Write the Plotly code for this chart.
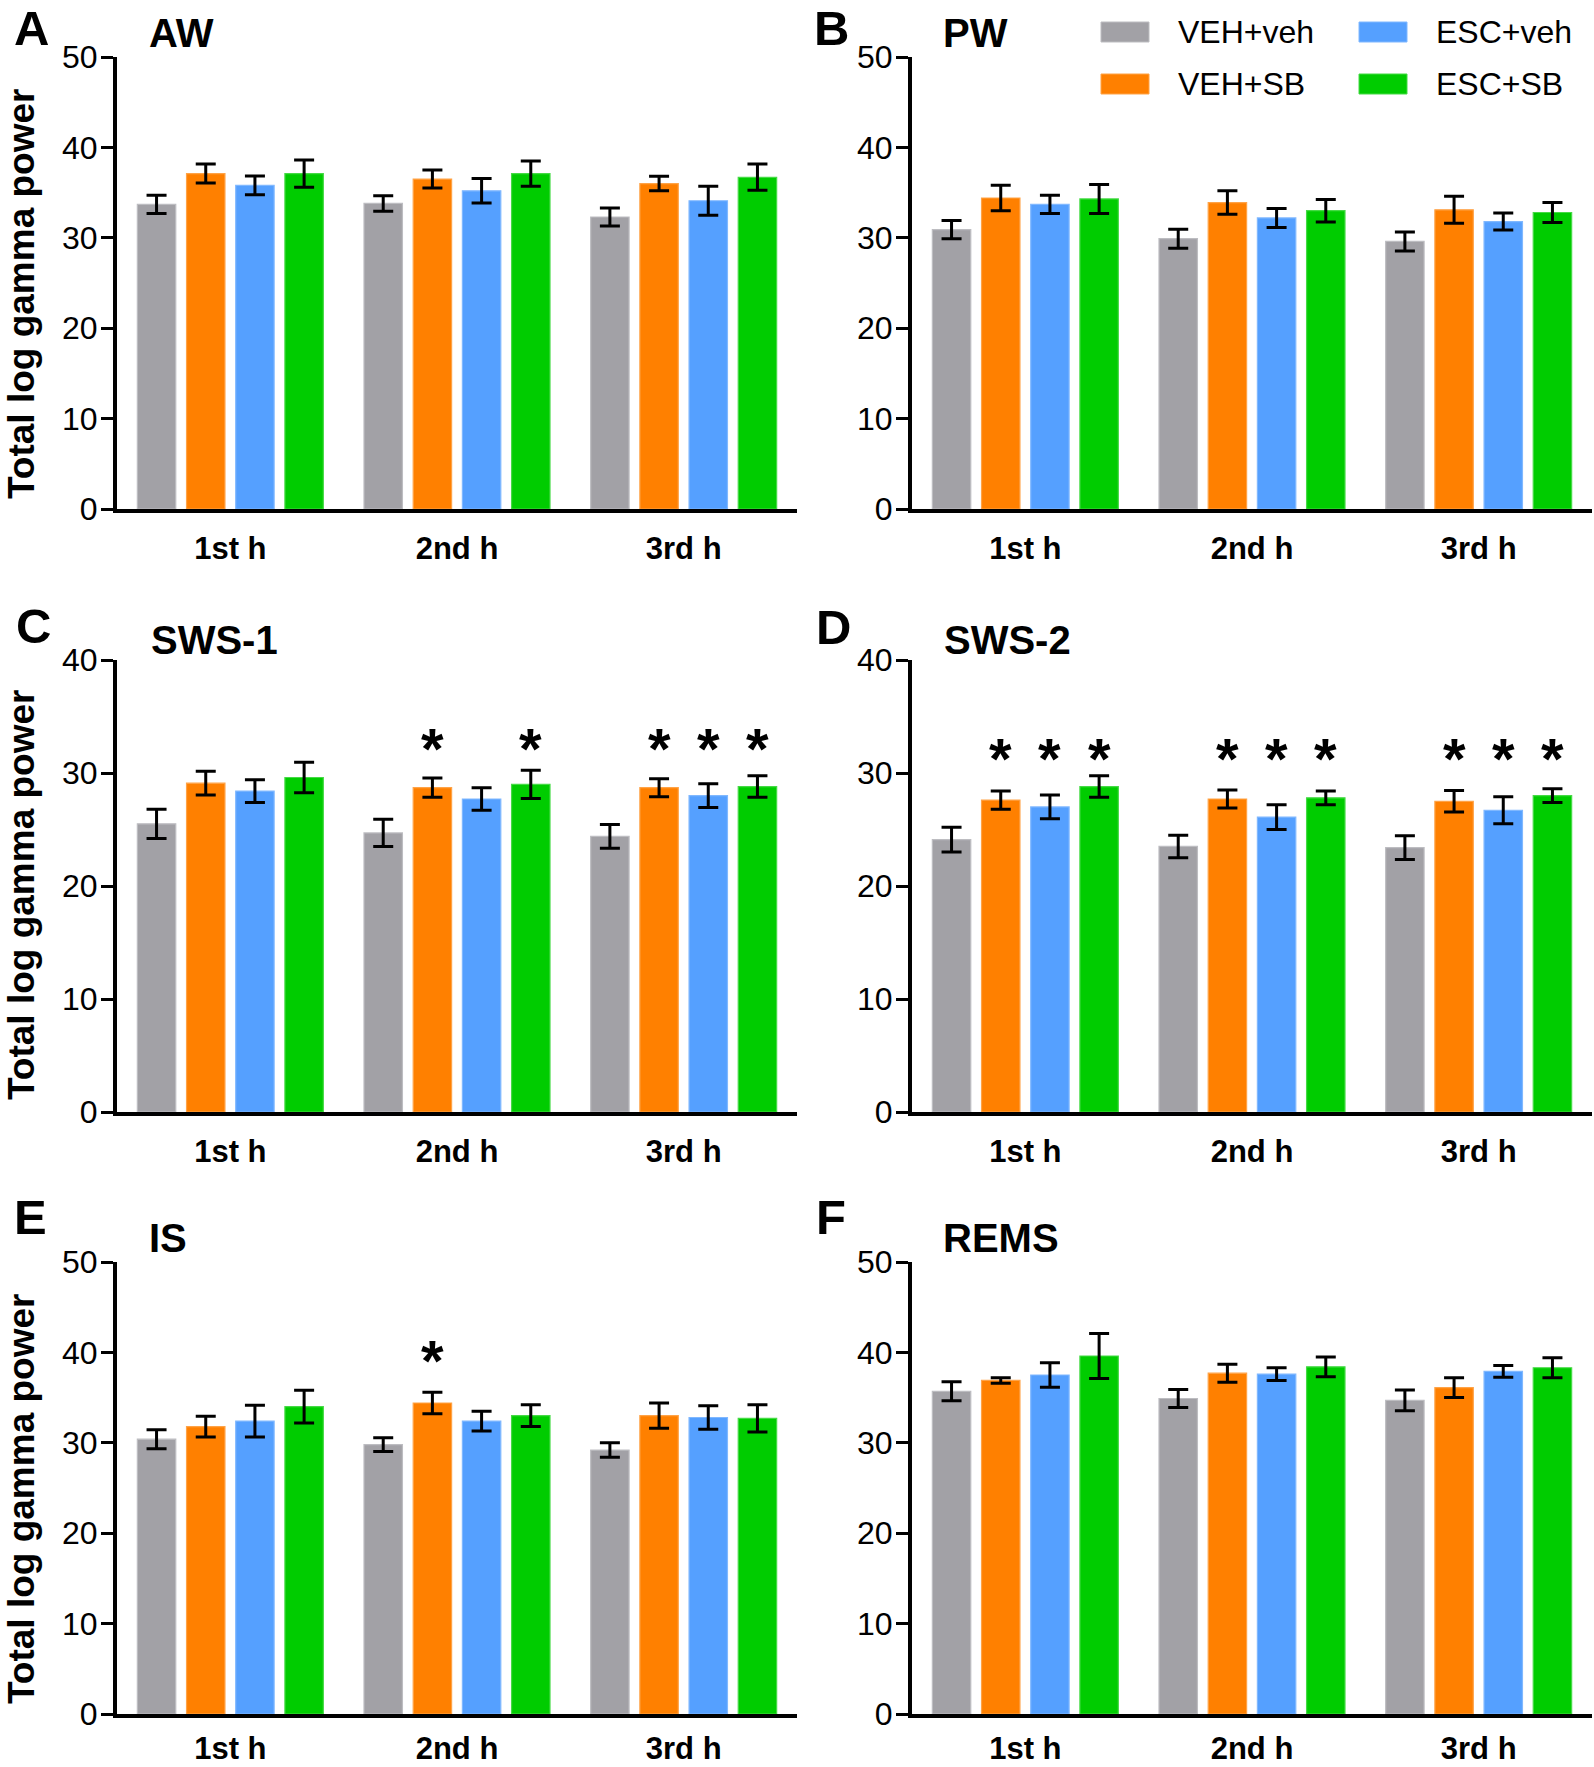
import plotly.graph_objects as go

W, H = 1594, 1767
FONT = "Liberation Sans"

HOURS = ["1st h", "2nd h", "3rd h"]
SERIES = ["VEH+veh", "VEH+SB", "ESC+veh", "ESC+SB"]
COLORS = ["#A2A1A6", "#FF8000", "#55A0FF", "#00CC00"]
EDGES = ["#BDBDC1", "#FFA347", "#80B8FF", "#45DA45"]

PANELS = ["AW", "PW", "SWS-1", "SWS-2", "IS", "REMS"]
LETTERS = ["A", "B", "C", "D", "E", "F"]
YMAX = [50, 50, 40, 40, 50, 50]

# rows = series (VEH+veh, VEH+SB, ESC+veh, ESC+SB); columns = 1st, 2nd, 3rd h
AW_MEAN = [[33.7, 33.8, 32.3], [37.1, 36.5, 36.0], [35.8, 35.2, 34.1], [37.1, 37.1, 36.7]]
AW_SEM = [[1.0, 0.85, 1.0], [1.05, 1.0, 0.8], [1.05, 1.35, 1.6], [1.5, 1.4, 1.45]]
PW_MEAN = [[30.9, 29.9, 29.6], [34.4, 33.9, 33.1], [33.7, 32.2, 31.8], [34.3, 33.0, 32.8]]
PW_SEM = [[1.0, 1.05, 1.05], [1.4, 1.3, 1.5], [1.0, 1.05, 0.95], [1.6, 1.25, 1.1]]
SWS1_MEAN = [[25.5, 24.7, 24.4], [29.1, 28.7, 28.7], [28.4, 27.7, 28.0], [29.6, 29.0, 28.8]]
SWS1_SEM = [[1.3, 1.2, 1.05], [1.05, 0.85, 0.8], [1.0, 1.0, 1.05], [1.35, 1.25, 0.95]]
SWS2_MEAN = [[24.1, 23.5, 23.4], [27.6, 27.7, 27.5], [27.0, 26.1, 26.7], [28.8, 27.8, 28.0]]
SWS2_SEM = [[1.1, 1.0, 1.05], [0.8, 0.8, 0.95], [1.05, 1.1, 1.2], [0.95, 0.6, 0.6]]
IS_MEAN = [[30.4, 29.8, 29.2], [31.8, 34.4, 33.0], [32.4, 32.4, 32.8], [34.0, 33.0, 32.7]]
IS_SEM = [[1.05, 0.75, 0.8], [1.15, 1.2, 1.4], [1.75, 1.1, 1.3], [1.8, 1.2, 1.5]]
REMS_MEAN = [[35.7, 34.9, 34.7], [36.9, 37.7, 36.1], [37.5, 37.6, 37.9], [39.6, 38.4, 38.3]]
REMS_SEM = [[1.05, 1.0, 1.15], [0.3, 1.0, 1.1], [1.35, 0.7, 0.65], [2.5, 1.1, 1.1]]

# significance marks: (hour index, series index)
AW_SIG = []
PW_SIG = []
SWS1_SIG = [(1, 1), (1, 3), (2, 1), (2, 2), (2, 3)]
SWS2_SIG = [(0, 1), (0, 2), (0, 3), (1, 1), (1, 2), (1, 3), (2, 1), (2, 2), (2, 3)]
IS_SIG = [(1, 1)]
REMS_SIG = []
STAR_LEVEL = [None, None, 33.3, 32.4, 40.5, None]

MEANS = [AW_MEAN, PW_MEAN, SWS1_MEAN, SWS2_MEAN, IS_MEAN, REMS_MEAN]
SEMS = [AW_SEM, PW_SEM, SWS1_SEM, SWS2_SEM, IS_SEM, REMS_SEM]
SIGS = [AW_SIG, PW_SIG, SWS1_SIG, SWS2_SIG, IS_SIG, REMS_SIG]

# ---- layout geometry (pixels) ----
COL_X = [(117, 797), (912, 1592)]
ROW_Y = [(57, 509), (660, 1112), (1262, 1714)]
XLAB_STANDOFF = [9, 9, 4]
BARGAP = 0.132
GROUPGAP = 0.219


def px(x):
    return x / W


def py(y):
    return 1 - y / H


fig = go.Figure()
annotations = []
shapes = []

for i, name in enumerate(PANELS):
    r, c = divmod(i, 2)
    sfx = "" if i == 0 else str(i + 1)
    xa, ya = "x" + sfx, "y" + sfx
    for s in range(4):
        fig.add_trace(go.Bar(
            x=HOURS, y=MEANS[i][s], name=SERIES[s],
            marker=dict(color=COLORS[s], line=dict(color=EDGES[s], width=1.2)),
            error_y=dict(type="data", array=SEMS[i][s], visible=True,
                         color="black", thickness=3, width=10),
            xaxis=xa, yaxis=ya, showlegend=False,
        ))
    x0, x1 = COL_X[c]
    top, bot = ROW_Y[r]
    fig.update_layout(**{
        ("xaxis" + sfx): dict(
            domain=[px(x0), px(x1)], anchor=ya, type="category", automargin=False,
            showline=True, linecolor="black", linewidth=4,
            ticks="", showgrid=False, zeroline=False,
            tickfont=dict(family=FONT, size=31, color="black", weight="bold"),
            ticklabelstandoff=XLAB_STANDOFF[r],
        ),
        ("yaxis" + sfx): dict(
            domain=[py(bot), py(top)], anchor=xa, range=[0, YMAX[i]], automargin=False,
            dtick=10, showline=True, linecolor="black", linewidth=4,
            ticks="outside", ticklen=12, tickwidth=3, tickcolor="black",
            showgrid=False, zeroline=False,
            tickfont=dict(family=FONT, size=32, color="black"),
            ticklabelstandoff=-3,
        ),
    })
    # significance asterisks
    pitch = (1 - BARGAP) / 4
    for (h, s) in SIGS[i]:
        annotations.append(dict(
            x=h + (s - 1.5) * pitch, y=STAR_LEVEL[i], xref=xa, yref=ya,
            text="*", showarrow=False, xanchor="center", yanchor="middle",
            yshift=-13,
            font=dict(family=FONT, size=58, color="black", weight="bold"),
        ))

# panel letters and titles
LETTER_POS = [(13, 28), (813, 28), (15, 626), (815, 627), (13, 1217), (815, 1217)]
TITLE_POS = [(147, 33), (941, 33), (149, 640), (942, 640), (147, 1238), (941, 1238)]
for i in range(6):
    lx, ly = LETTER_POS[i]
    annotations.append(dict(x=px(lx), y=py(ly), xref="paper", yref="paper",
                            text=LETTERS[i], showarrow=False, xanchor="left", yanchor="middle",
                            borderpad=0,
                            font=dict(family=FONT, size=49, color="black", weight="bold")))
    tx, ty = TITLE_POS[i]
    annotations.append(dict(x=px(tx), y=py(ty), xref="paper", yref="paper",
                            text=PANELS[i], showarrow=False, xanchor="left", yanchor="middle",
                            font=dict(family=FONT, size=40, color="black", weight="bold")))

# y-axis titles (left column)
for r, yc in enumerate([294, 895, 1499]):
    annotations.append(dict(x=px(21), y=py(yc), xref="paper", yref="paper",
                            text="Total log gamma power", textangle=-90, showarrow=False,
                            xanchor="center", yanchor="middle", borderpad=0,
                            font=dict(family=FONT, size=37, color="black", weight="bold")))

# legend (two columns)
LEG_BOX_X = [1101, 1359]
LEG_ROW_Y = [32, 84]
LEG_ORDER = [(0, 0, 0), (1, 0, 1), (2, 1, 0), (3, 1, 1)]  # series, column, row
for s, col, row in LEG_ORDER:
    bx = LEG_BOX_X[col]
    cy = LEG_ROW_Y[row]
    shapes.append(dict(type="rect", xref="paper", yref="paper",
                       x0=px(bx), x1=px(bx + 48), y0=py(cy + 10), y1=py(cy - 10),
                       fillcolor=COLORS[s], line=dict(color=EDGES[s], width=1)))
    annotations.append(dict(x=px(bx + 75), y=py(cy), xref="paper", yref="paper",
                            text=SERIES[s], showarrow=False, xanchor="left", yanchor="middle",
                            font=dict(family=FONT, size=32, color="black")))

fig.update_layout(
    width=W, height=H, barmode="group", bargap=BARGAP, bargroupgap=GROUPGAP,
    margin=dict(l=0, r=0, t=0, b=0, autoexpand=False),
    plot_bgcolor="white", paper_bgcolor="white",
    annotations=annotations, shapes=shapes, showlegend=False,
    font=dict(family=FONT, color="black"),
)

fig.write_html("out.html", config={"displayModeBar": False},
               post_script="document.body.style.margin='0px';document.body.style.overflow='hidden';")
